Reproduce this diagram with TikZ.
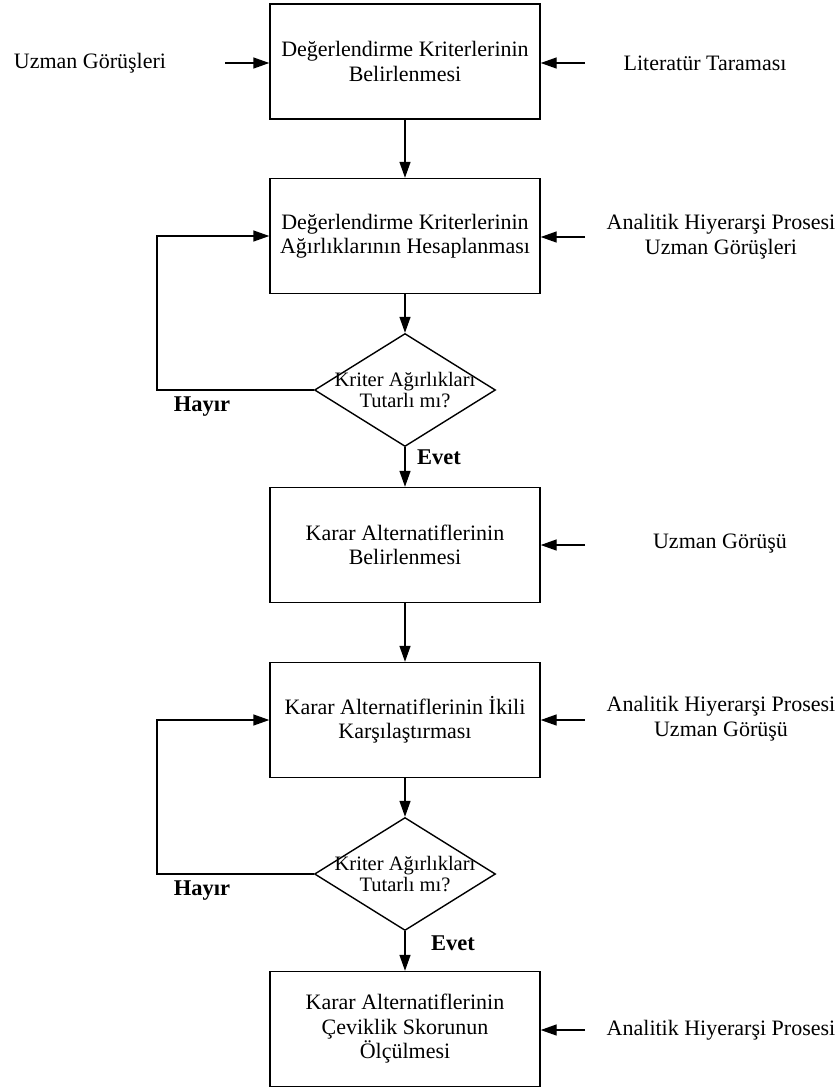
\documentclass[tikz,border=0pt]{standalone}
\usepackage{fontspec}
\setmainfont{Liberation Serif}
\usetikzlibrary{arrows.meta,shapes.geometric}
\begin{document}
\begin{tikzpicture}[x=1pt,y=-1pt,
  box/.style={draw, line width=1.4pt, minimum width=270pt, minimum height=115pt, align=center, font=\fontsize{22}{24.5}\selectfont, inner sep=2pt},
  dec/.style={draw, diamond, line width=1.4pt, minimum width=181pt, minimum height=113pt, inner sep=0pt},
  side/.style={align=center, font=\fontsize{22}{25}\selectfont},
  dtext/.style={align=center, font=\fontsize{20.5}{21}\selectfont},
  lbl/.style={font=\fontsize{22.5}{24}\selectfont\bfseries},
  arr/.style={line width=1.4pt, -{Triangle[length=16pt,width=11pt]}}
]
\useasboundingbox (0,0) rectangle (840,1088);

\node[box] (b1) at (405,61.5) {Değerlendirme Kriterlerinin\\Belirlenmesi};
\node[box] (b2) at (405,236) {Değerlendirme Kriterlerinin\\Ağırlıklarının Hesaplanması};
\node[dec, label={[dtext]center:{Kriter Ağırlıkları\\Tutarlı mı?}}] (d1) at (405,390) {};
\node[box] (b3) at (405,545) {Karar Alternatiflerinin\\Belirlenmesi};
\node[box] (b4) at (405,720) {Karar Alternatiflerinin İkili\\Karşılaştırması};
\node[dec, label={[dtext]center:{Kriter Ağırlıkları\\Tutarlı mı?}}] (d2) at (405,874) {};
\node[box] (b5) at (405,1029) {Karar Alternatiflerinin\\Çeviklik Skorunun\\Ölçülmesi};

% side texts
\node[side] (l1) at (90,63) {Uzman Görüşleri};
\node[side] (t1) at (705,63) {Literatür Taraması};
\node[side] (t2) at (721,237) {Analitik Hiyerarşi Prosesi\\Uzman Görüşleri};
\node[side] (t3) at (720,544) {Uzman Görüşü};
\node[side] (t4) at (721,719) {Analitik Hiyerarşi Prosesi\\Uzman Görüşü};
\node[side] (t5) at (721,1030) {Analitik Hiyerarşi Prosesi};

\coordinate (cl1) at (225,63);
\coordinate (cr1) at (585,63);
\coordinate (cr2) at (585,237);
\coordinate (cr3) at (585,545);
\coordinate (cr4) at (585,720);
\coordinate (cr5) at (585,1030);

\draw[arr] (cl1) -- (cl1 -| b1.west);
\draw[arr] (cr1) -- (cr1 -| b1.east);
\draw[arr] (cr2) -- (cr2 -| b2.east);
\draw[arr] (cr3) -- (cr3 -| b3.east);
\draw[arr] (cr4) -- (cr4 -| b4.east);
\draw[arr] (cr5) -- (cr5 -| b5.east);

% main flow
\draw[arr] (b1.south) -- (b2.north);
\draw[arr] (b2.south) -- (d1.north);
\draw[arr] (d1.south) -- (b3.north);
\draw[arr] (b3.south) -- (b4.north);
\draw[arr] (b4.south) -- (d2.north);
\draw[arr] (d2.south) -- (b5.north);

% loops
\coordinate (k1) at (157,390);
\coordinate (k2) at (157,874);
\draw[arr] (d1.west) -- (k1) |- (b2.west);
\draw[arr] (d2.west) -- (k2) |- (b4.west);

\node[lbl] (h1) at (202,407) {Hayır};
\node[lbl] (h2) at (202,891) {Hayır};
\node[lbl] (e1) at (439,457) {Evet};
\node[lbl] (e2) at (453,943) {Evet};
\end{tikzpicture}
\end{document}
